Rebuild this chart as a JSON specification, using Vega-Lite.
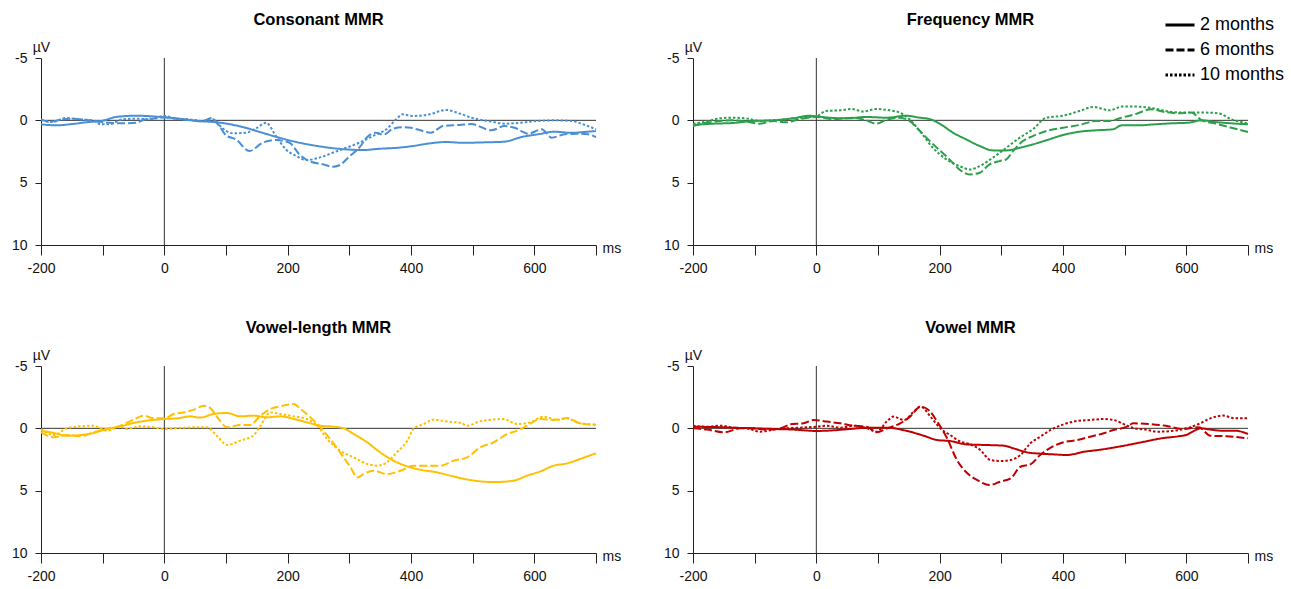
{
  "$schema": "https://vega.github.io/schema/vega-lite/v6.json",
  "background": "white",
  "padding": {"left": 11, "top": 9, "right": 5, "bottom": 5},
  "columns": 2,
  "spacing": {"row": 121, "column": 97},
  "bounds": "flush",
  "datasets": {
    "erp": [
      {"panel":"Consonant","age":"2 months","ms":-200,"uv":0.32},{"panel":"Consonant","age":"2 months","ms":-176,"uv":0.4},{"panel":"Consonant","age":"2 months","ms":-150,"uv":0.3},{"panel":"Consonant","age":"2 months","ms":-122,"uv":0.13},{"panel":"Consonant","age":"2 months","ms":-100,"uv":0.03},{"panel":"Consonant","age":"2 months","ms":-78,"uv":-0.27},{"panel":"Consonant","age":"2 months","ms":-46,"uv":-0.37},{"panel":"Consonant","age":"2 months","ms":-14,"uv":-0.3},{"panel":"Consonant","age":"2 months","ms":0,"uv":-0.24},{"panel":"Consonant","age":"2 months","ms":24,"uv":-0.13},{"panel":"Consonant","age":"2 months","ms":51,"uv":0.05},{"panel":"Consonant","age":"2 months","ms":78,"uv":0.13},{"panel":"Consonant","age":"2 months","ms":105,"uv":0.3},{"panel":"Consonant","age":"2 months","ms":132,"uv":0.6},{"panel":"Consonant","age":"2 months","ms":159,"uv":1.0},{"panel":"Consonant","age":"2 months","ms":187,"uv":1.4},{"panel":"Consonant","age":"2 months","ms":214,"uv":1.74},{"panel":"Consonant","age":"2 months","ms":241,"uv":2.0},{"panel":"Consonant","age":"2 months","ms":268,"uv":2.2},{"panel":"Consonant","age":"2 months","ms":295,"uv":2.33},{"panel":"Consonant","age":"2 months","ms":322,"uv":2.38},{"panel":"Consonant","age":"2 months","ms":349,"uv":2.28},{"panel":"Consonant","age":"2 months","ms":378,"uv":2.2},{"panel":"Consonant","age":"2 months","ms":403,"uv":2.06},{"panel":"Consonant","age":"2 months","ms":430,"uv":1.85},{"panel":"Consonant","age":"2 months","ms":457,"uv":1.74},{"panel":"Consonant","age":"2 months","ms":484,"uv":1.8},{"panel":"Consonant","age":"2 months","ms":524,"uv":1.76},{"panel":"Consonant","age":"2 months","ms":552,"uv":1.71},{"panel":"Consonant","age":"2 months","ms":579,"uv":1.34},{"panel":"Consonant","age":"2 months","ms":606,"uv":1.12},{"panel":"Consonant","age":"2 months","ms":633,"uv":0.91},{"panel":"Consonant","age":"2 months","ms":660,"uv":1.0},{"panel":"Consonant","age":"2 months","ms":687,"uv":0.91},{"panel":"Consonant","age":"2 months","ms":700,"uv":0.86},
      {"panel":"Consonant","age":"6 months","ms":-200,"uv":-0.08},{"panel":"Consonant","age":"6 months","ms":-186,"uv":0.13},{"panel":"Consonant","age":"6 months","ms":-170,"uv":-0.03},{"panel":"Consonant","age":"6 months","ms":-149,"uv":-0.13},{"panel":"Consonant","age":"6 months","ms":-127,"uv":-0.03},{"panel":"Consonant","age":"6 months","ms":-111,"uv":0.08},{"panel":"Consonant","age":"6 months","ms":-89,"uv":0.19},{"panel":"Consonant","age":"6 months","ms":-68,"uv":0.24},{"panel":"Consonant","age":"6 months","ms":-46,"uv":0.19},{"panel":"Consonant","age":"6 months","ms":-30,"uv":-0.08},{"panel":"Consonant","age":"6 months","ms":-14,"uv":-0.16},{"panel":"Consonant","age":"6 months","ms":0,"uv":-0.24},{"panel":"Consonant","age":"6 months","ms":19,"uv":-0.13},{"panel":"Consonant","age":"6 months","ms":41,"uv":-0.03},{"panel":"Consonant","age":"6 months","ms":62,"uv":0.08},{"panel":"Consonant","age":"6 months","ms":76,"uv":-0.19},{"panel":"Consonant","age":"6 months","ms":89,"uv":0.45},{"panel":"Consonant","age":"6 months","ms":100,"uv":1.2},{"panel":"Consonant","age":"6 months","ms":116,"uv":1.53},{"panel":"Consonant","age":"6 months","ms":138,"uv":2.46},{"panel":"Consonant","age":"6 months","ms":159,"uv":1.8},{"panel":"Consonant","age":"6 months","ms":181,"uv":1.58},{"panel":"Consonant","age":"6 months","ms":203,"uv":1.8},{"panel":"Consonant","age":"6 months","ms":219,"uv":2.73},{"panel":"Consonant","age":"6 months","ms":235,"uv":3.27},{"panel":"Consonant","age":"6 months","ms":257,"uv":3.53},{"panel":"Consonant","age":"6 months","ms":273,"uv":3.72},{"panel":"Consonant","age":"6 months","ms":284,"uv":3.6},{"panel":"Consonant","age":"6 months","ms":300,"uv":2.9},{"panel":"Consonant","age":"6 months","ms":316,"uv":2.2},{"panel":"Consonant","age":"6 months","ms":330,"uv":1.3},{"panel":"Consonant","age":"6 months","ms":343,"uv":1.0},{"panel":"Consonant","age":"6 months","ms":355,"uv":1.15},{"panel":"Consonant","age":"6 months","ms":370,"uv":0.7},{"panel":"Consonant","age":"6 months","ms":385,"uv":0.55},{"panel":"Consonant","age":"6 months","ms":400,"uv":0.6},{"panel":"Consonant","age":"6 months","ms":415,"uv":0.8},{"panel":"Consonant","age":"6 months","ms":432,"uv":1.0},{"panel":"Consonant","age":"6 months","ms":452,"uv":0.45},{"panel":"Consonant","age":"6 months","ms":479,"uv":0.37},{"panel":"Consonant","age":"6 months","ms":498,"uv":0.3},{"panel":"Consonant","age":"6 months","ms":530,"uv":0.8},{"panel":"Consonant","age":"6 months","ms":552,"uv":0.46},{"panel":"Consonant","age":"6 months","ms":568,"uv":0.59},{"panel":"Consonant","age":"6 months","ms":590,"uv":1.07},{"panel":"Consonant","age":"6 months","ms":612,"uv":0.72},{"panel":"Consonant","age":"6 months","ms":628,"uv":1.39},{"panel":"Consonant","age":"6 months","ms":649,"uv":1.12},{"panel":"Consonant","age":"6 months","ms":671,"uv":1.07},{"panel":"Consonant","age":"6 months","ms":687,"uv":1.12},{"panel":"Consonant","age":"6 months","ms":700,"uv":1.34},
      {"panel":"Consonant","age":"10 months","ms":-200,"uv":-0.03},{"panel":"Consonant","age":"10 months","ms":-181,"uv":0.13},{"panel":"Consonant","age":"10 months","ms":-160,"uv":-0.19},{"panel":"Consonant","age":"10 months","ms":-138,"uv":-0.08},{"panel":"Consonant","age":"10 months","ms":-116,"uv":0},{"panel":"Consonant","age":"10 months","ms":-103,"uv":0.32},{"panel":"Consonant","age":"10 months","ms":-89,"uv":0.32},{"panel":"Consonant","age":"10 months","ms":-68,"uv":-0.08},{"panel":"Consonant","age":"10 months","ms":-46,"uv":-0.13},{"panel":"Consonant","age":"10 months","ms":-24,"uv":-0.08},{"panel":"Consonant","age":"10 months","ms":0,"uv":-0.35},{"panel":"Consonant","age":"10 months","ms":19,"uv":-0.13},{"panel":"Consonant","age":"10 months","ms":41,"uv":-0.08},{"panel":"Consonant","age":"10 months","ms":62,"uv":0.05},{"panel":"Consonant","age":"10 months","ms":78,"uv":-0.08},{"panel":"Consonant","age":"10 months","ms":95,"uv":0.67},{"panel":"Consonant","age":"10 months","ms":111,"uv":1.04},{"panel":"Consonant","age":"10 months","ms":132,"uv":1.0},{"panel":"Consonant","age":"10 months","ms":150,"uv":0.6},{"panel":"Consonant","age":"10 months","ms":165,"uv":0.2},{"panel":"Consonant","age":"10 months","ms":181,"uv":1.26},{"panel":"Consonant","age":"10 months","ms":197,"uv":2.33},{"panel":"Consonant","age":"10 months","ms":214,"uv":2.86},{"panel":"Consonant","age":"10 months","ms":230,"uv":3.19},{"panel":"Consonant","age":"10 months","ms":251,"uv":3.0},{"panel":"Consonant","age":"10 months","ms":273,"uv":2.6},{"panel":"Consonant","age":"10 months","ms":295,"uv":2.2},{"panel":"Consonant","age":"10 months","ms":316,"uv":1.8},{"panel":"Consonant","age":"10 months","ms":338,"uv":1.26},{"panel":"Consonant","age":"10 months","ms":360,"uv":0.72},{"panel":"Consonant","age":"10 months","ms":376,"uv":-0.08},{"panel":"Consonant","age":"10 months","ms":386,"uv":-0.48},{"panel":"Consonant","age":"10 months","ms":403,"uv":-0.35},{"panel":"Consonant","age":"10 months","ms":430,"uv":-0.48},{"panel":"Consonant","age":"10 months","ms":457,"uv":-0.83},{"panel":"Consonant","age":"10 months","ms":478,"uv":-0.56},{"panel":"Consonant","age":"10 months","ms":498,"uv":-0.21},{"panel":"Consonant","age":"10 months","ms":530,"uv":0.1},{"panel":"Consonant","age":"10 months","ms":552,"uv":0.27},{"panel":"Consonant","age":"10 months","ms":579,"uv":0.19},{"panel":"Consonant","age":"10 months","ms":606,"uv":0.05},{"panel":"Consonant","age":"10 months","ms":633,"uv":0},{"panel":"Consonant","age":"10 months","ms":660,"uv":0.05},{"panel":"Consonant","age":"10 months","ms":682,"uv":0.37},{"panel":"Consonant","age":"10 months","ms":700,"uv":0.72},

      {"panel":"Frequency","age":"2 months","ms":-200,"uv":0.37},{"panel":"Frequency","age":"2 months","ms":-168,"uv":0.27},{"panel":"Frequency","age":"2 months","ms":-135,"uv":0.21},{"panel":"Frequency","age":"2 months","ms":-103,"uv":0.05},{"panel":"Frequency","age":"2 months","ms":-70,"uv":0},{"panel":"Frequency","age":"2 months","ms":-38,"uv":-0.16},{"panel":"Frequency","age":"2 months","ms":-11,"uv":-0.37},{"panel":"Frequency","age":"2 months","ms":0,"uv":-0.32},{"panel":"Frequency","age":"2 months","ms":22,"uv":-0.21},{"panel":"Frequency","age":"2 months","ms":49,"uv":-0.16},{"panel":"Frequency","age":"2 months","ms":81,"uv":-0.27},{"panel":"Frequency","age":"2 months","ms":114,"uv":-0.21},{"panel":"Frequency","age":"2 months","ms":146,"uv":-0.37},{"panel":"Frequency","age":"2 months","ms":168,"uv":-0.21},{"panel":"Frequency","age":"2 months","ms":184,"uv":-0.1},{"panel":"Frequency","age":"2 months","ms":200,"uv":0.27},{"panel":"Frequency","age":"2 months","ms":222,"uv":1.0},{"panel":"Frequency","age":"2 months","ms":243,"uv":1.53},{"panel":"Frequency","age":"2 months","ms":265,"uv":2.06},{"panel":"Frequency","age":"2 months","ms":286,"uv":2.41},{"panel":"Frequency","age":"2 months","ms":308,"uv":2.41},{"panel":"Frequency","age":"2 months","ms":330,"uv":2.2},{"panel":"Frequency","age":"2 months","ms":351,"uv":1.93},{"panel":"Frequency","age":"2 months","ms":373,"uv":1.6},{"panel":"Frequency","age":"2 months","ms":400,"uv":1.18},{"panel":"Frequency","age":"2 months","ms":427,"uv":0.91},{"panel":"Frequency","age":"2 months","ms":454,"uv":0.8},{"panel":"Frequency","age":"2 months","ms":481,"uv":0.72},{"panel":"Frequency","age":"2 months","ms":495,"uv":0.4},{"panel":"Frequency","age":"2 months","ms":522,"uv":0.4},{"panel":"Frequency","age":"2 months","ms":549,"uv":0.32},{"panel":"Frequency","age":"2 months","ms":576,"uv":0.24},{"panel":"Frequency","age":"2 months","ms":603,"uv":0.19},{"panel":"Frequency","age":"2 months","ms":625,"uv":0},{"panel":"Frequency","age":"2 months","ms":646,"uv":0.13},{"panel":"Frequency","age":"2 months","ms":673,"uv":0.24},{"panel":"Frequency","age":"2 months","ms":700,"uv":0.32},
      {"panel":"Frequency","age":"6 months","ms":-200,"uv":0.45},{"panel":"Frequency","age":"6 months","ms":-178,"uv":0.19},{"panel":"Frequency","age":"6 months","ms":-157,"uv":0.05},{"panel":"Frequency","age":"6 months","ms":-135,"uv":0},{"panel":"Frequency","age":"6 months","ms":-114,"uv":0.1},{"panel":"Frequency","age":"6 months","ms":-92,"uv":0.27},{"panel":"Frequency","age":"6 months","ms":-70,"uv":0.05},{"panel":"Frequency","age":"6 months","ms":-49,"uv":0.16},{"panel":"Frequency","age":"6 months","ms":-27,"uv":-0.1},{"panel":"Frequency","age":"6 months","ms":0,"uv":-0.27},{"panel":"Frequency","age":"6 months","ms":27,"uv":-0.1},{"panel":"Frequency","age":"6 months","ms":59,"uv":-0.21},{"panel":"Frequency","age":"6 months","ms":81,"uv":0},{"panel":"Frequency","age":"6 months","ms":97,"uv":0.27},{"panel":"Frequency","age":"6 months","ms":114,"uv":-0.05},{"panel":"Frequency","age":"6 months","ms":135,"uv":-0.21},{"panel":"Frequency","age":"6 months","ms":151,"uv":0.05},{"panel":"Frequency","age":"6 months","ms":168,"uv":0.86},{"panel":"Frequency","age":"6 months","ms":184,"uv":1.66},{"panel":"Frequency","age":"6 months","ms":200,"uv":2.41},{"panel":"Frequency","age":"6 months","ms":216,"uv":3.13},{"panel":"Frequency","age":"6 months","ms":232,"uv":3.94},{"panel":"Frequency","age":"6 months","ms":249,"uv":4.34},{"panel":"Frequency","age":"6 months","ms":265,"uv":4.2},{"panel":"Frequency","age":"6 months","ms":281,"uv":3.53},{"panel":"Frequency","age":"6 months","ms":297,"uv":3.27},{"panel":"Frequency","age":"6 months","ms":308,"uv":3.13},{"panel":"Frequency","age":"6 months","ms":319,"uv":2.46},{"panel":"Frequency","age":"6 months","ms":335,"uv":1.66},{"panel":"Frequency","age":"6 months","ms":351,"uv":1.26},{"panel":"Frequency","age":"6 months","ms":373,"uv":0.86},{"panel":"Frequency","age":"6 months","ms":400,"uv":0.59},{"panel":"Frequency","age":"6 months","ms":427,"uv":0.37},{"panel":"Frequency","age":"6 months","ms":454,"uv":0.05},{"panel":"Frequency","age":"6 months","ms":476,"uv":0.05},{"panel":"Frequency","age":"6 months","ms":495,"uv":-0.21},{"panel":"Frequency","age":"6 months","ms":516,"uv":-0.48},{"panel":"Frequency","age":"6 months","ms":543,"uv":-0.88},{"panel":"Frequency","age":"6 months","ms":565,"uv":-0.67},{"panel":"Frequency","age":"6 months","ms":587,"uv":-0.56},{"panel":"Frequency","age":"6 months","ms":608,"uv":-0.62},{"panel":"Frequency","age":"6 months","ms":625,"uv":0},{"panel":"Frequency","age":"6 months","ms":646,"uv":0.24},{"panel":"Frequency","age":"6 months","ms":673,"uv":0.59},{"panel":"Frequency","age":"6 months","ms":700,"uv":0.94},
      {"panel":"Frequency","age":"10 months","ms":-200,"uv":0.27},{"panel":"Frequency","age":"10 months","ms":-178,"uv":0.1},{"panel":"Frequency","age":"10 months","ms":-157,"uv":-0.16},{"panel":"Frequency","age":"10 months","ms":-135,"uv":-0.21},{"panel":"Frequency","age":"10 months","ms":-114,"uv":-0.16},{"panel":"Frequency","age":"10 months","ms":-92,"uv":0.05},{"panel":"Frequency","age":"10 months","ms":-59,"uv":-0.05},{"panel":"Frequency","age":"10 months","ms":-27,"uv":-0.21},{"panel":"Frequency","age":"10 months","ms":0,"uv":-0.32},{"panel":"Frequency","age":"10 months","ms":16,"uv":-0.75},{"panel":"Frequency","age":"10 months","ms":38,"uv":-0.8},{"panel":"Frequency","age":"10 months","ms":57,"uv":-0.91},{"panel":"Frequency","age":"10 months","ms":76,"uv":-0.7},{"panel":"Frequency","age":"10 months","ms":97,"uv":-0.91},{"panel":"Frequency","age":"10 months","ms":119,"uv":-0.8},{"panel":"Frequency","age":"10 months","ms":135,"uv":-0.62},{"panel":"Frequency","age":"10 months","ms":151,"uv":-0.08},{"panel":"Frequency","age":"10 months","ms":168,"uv":0.86},{"panel":"Frequency","age":"10 months","ms":189,"uv":2.2},{"panel":"Frequency","age":"10 months","ms":211,"uv":3.13},{"panel":"Frequency","age":"10 months","ms":232,"uv":3.67},{"panel":"Frequency","age":"10 months","ms":249,"uv":3.94},{"panel":"Frequency","age":"10 months","ms":265,"uv":3.67},{"panel":"Frequency","age":"10 months","ms":286,"uv":3.0},{"panel":"Frequency","age":"10 months","ms":308,"uv":2.2},{"panel":"Frequency","age":"10 months","ms":330,"uv":1.39},{"panel":"Frequency","age":"10 months","ms":351,"uv":0.72},{"panel":"Frequency","age":"10 months","ms":373,"uv":-0.21},{"panel":"Frequency","age":"10 months","ms":400,"uv":-0.37},{"panel":"Frequency","age":"10 months","ms":427,"uv":-0.75},{"panel":"Frequency","age":"10 months","ms":449,"uv":-1.07},{"panel":"Frequency","age":"10 months","ms":476,"uv":-0.8},{"panel":"Frequency","age":"10 months","ms":495,"uv":-1.1},{"panel":"Frequency","age":"10 months","ms":522,"uv":-1.1},{"panel":"Frequency","age":"10 months","ms":549,"uv":-0.94},{"panel":"Frequency","age":"10 months","ms":576,"uv":-0.67},{"panel":"Frequency","age":"10 months","ms":603,"uv":-0.62},{"panel":"Frequency","age":"10 months","ms":630,"uv":-0.62},{"panel":"Frequency","age":"10 months","ms":652,"uv":-0.56},{"panel":"Frequency","age":"10 months","ms":673,"uv":-0.08},{"panel":"Frequency","age":"10 months","ms":700,"uv":0.24},

      {"panel":"Vowel-length","age":"2 months","ms":-200,"uv":0.19},{"panel":"Vowel-length","age":"2 months","ms":-179,"uv":0.37},{"panel":"Vowel-length","age":"2 months","ms":-158,"uv":0.59},{"panel":"Vowel-length","age":"2 months","ms":-136,"uv":0.54},{"panel":"Vowel-length","age":"2 months","ms":-115,"uv":0.37},{"panel":"Vowel-length","age":"2 months","ms":-93,"uv":0.05},{"panel":"Vowel-length","age":"2 months","ms":-71,"uv":-0.16},{"panel":"Vowel-length","age":"2 months","ms":-50,"uv":-0.43},{"panel":"Vowel-length","age":"2 months","ms":-28,"uv":-0.62},{"panel":"Vowel-length","age":"2 months","ms":0,"uv":-0.75},{"panel":"Vowel-length","age":"2 months","ms":21,"uv":-0.8},{"panel":"Vowel-length","age":"2 months","ms":42,"uv":-0.96},{"panel":"Vowel-length","age":"2 months","ms":58,"uv":-0.86},{"panel":"Vowel-length","age":"2 months","ms":80,"uv":-1.15},{"panel":"Vowel-length","age":"2 months","ms":102,"uv":-1.23},{"panel":"Vowel-length","age":"2 months","ms":123,"uv":-0.96},{"panel":"Vowel-length","age":"2 months","ms":145,"uv":-1.02},{"panel":"Vowel-length","age":"2 months","ms":166,"uv":-0.88},{"panel":"Vowel-length","age":"2 months","ms":188,"uv":-0.96},{"panel":"Vowel-length","age":"2 months","ms":210,"uv":-0.75},{"panel":"Vowel-length","age":"2 months","ms":231,"uv":-0.48},{"panel":"Vowel-length","age":"2 months","ms":253,"uv":-0.21},{"panel":"Vowel-length","age":"2 months","ms":275,"uv":-0.13},{"panel":"Vowel-length","age":"2 months","ms":291,"uv":0},{"panel":"Vowel-length","age":"2 months","ms":307,"uv":0.46},{"panel":"Vowel-length","age":"2 months","ms":329,"uv":1.12},{"panel":"Vowel-length","age":"2 months","ms":350,"uv":1.93},{"panel":"Vowel-length","age":"2 months","ms":372,"uv":2.6},{"panel":"Vowel-length","age":"2 months","ms":394,"uv":3.05},{"panel":"Vowel-length","age":"2 months","ms":415,"uv":3.32},{"panel":"Vowel-length","age":"2 months","ms":442,"uv":3.53},{"panel":"Vowel-length","age":"2 months","ms":469,"uv":3.86},{"panel":"Vowel-length","age":"2 months","ms":491,"uv":4.1},{"panel":"Vowel-length","age":"2 months","ms":534,"uv":4.31},{"panel":"Vowel-length","age":"2 months","ms":566,"uv":4.2},{"panel":"Vowel-length","age":"2 months","ms":588,"uv":3.8},{"panel":"Vowel-length","age":"2 months","ms":610,"uv":3.45},{"panel":"Vowel-length","age":"2 months","ms":631,"uv":3.0},{"panel":"Vowel-length","age":"2 months","ms":653,"uv":2.81},{"panel":"Vowel-length","age":"2 months","ms":674,"uv":2.46},{"panel":"Vowel-length","age":"2 months","ms":700,"uv":2.0},
      {"panel":"Vowel-length","age":"6 months","ms":-200,"uv":0.32},{"panel":"Vowel-length","age":"6 months","ms":-179,"uv":0.72},{"panel":"Vowel-length","age":"6 months","ms":-158,"uv":0.54},{"panel":"Vowel-length","age":"6 months","ms":-136,"uv":0.64},{"panel":"Vowel-length","age":"6 months","ms":-115,"uv":0.32},{"panel":"Vowel-length","age":"6 months","ms":-93,"uv":0.05},{"panel":"Vowel-length","age":"6 months","ms":-71,"uv":-0.21},{"panel":"Vowel-length","age":"6 months","ms":-50,"uv":-0.7},{"panel":"Vowel-length","age":"6 months","ms":-34,"uv":-1.02},{"panel":"Vowel-length","age":"6 months","ms":-17,"uv":-0.8},{"panel":"Vowel-length","age":"6 months","ms":0,"uv":-0.8},{"panel":"Vowel-length","age":"6 months","ms":15,"uv":-1.15},{"panel":"Vowel-length","age":"6 months","ms":31,"uv":-1.28},{"panel":"Vowel-length","age":"6 months","ms":48,"uv":-1.5},{"panel":"Vowel-length","age":"6 months","ms":64,"uv":-1.82},{"panel":"Vowel-length","age":"6 months","ms":75,"uv":-1.6},{"panel":"Vowel-length","age":"6 months","ms":88,"uv":-0.75},{"panel":"Vowel-length","age":"6 months","ms":102,"uv":-0.08},{"panel":"Vowel-length","age":"6 months","ms":123,"uv":-0.27},{"panel":"Vowel-length","age":"6 months","ms":139,"uv":-0.27},{"panel":"Vowel-length","age":"6 months","ms":156,"uv":-1.02},{"panel":"Vowel-length","age":"6 months","ms":172,"uv":-1.55},{"panel":"Vowel-length","age":"6 months","ms":188,"uv":-1.77},{"panel":"Vowel-length","age":"6 months","ms":210,"uv":-1.95},{"panel":"Vowel-length","age":"6 months","ms":221,"uv":-1.55},{"panel":"Vowel-length","age":"6 months","ms":237,"uv":-0.88},{"panel":"Vowel-length","age":"6 months","ms":253,"uv":-0.08},{"panel":"Vowel-length","age":"6 months","ms":269,"uv":0.86},{"panel":"Vowel-length","age":"6 months","ms":285,"uv":1.93},{"panel":"Vowel-length","age":"6 months","ms":302,"uv":3.13},{"panel":"Vowel-length","age":"6 months","ms":313,"uv":3.94},{"panel":"Vowel-length","age":"6 months","ms":323,"uv":3.67},{"panel":"Vowel-length","age":"6 months","ms":339,"uv":3.4},{"panel":"Vowel-length","age":"6 months","ms":361,"uv":3.67},{"panel":"Vowel-length","age":"6 months","ms":383,"uv":3.4},{"panel":"Vowel-length","age":"6 months","ms":404,"uv":3.0},{"panel":"Vowel-length","age":"6 months","ms":426,"uv":3.0},{"panel":"Vowel-length","age":"6 months","ms":448,"uv":3.0},{"panel":"Vowel-length","age":"6 months","ms":469,"uv":2.6},{"panel":"Vowel-length","age":"6 months","ms":491,"uv":2.33},{"panel":"Vowel-length","age":"6 months","ms":512,"uv":1.53},{"panel":"Vowel-length","age":"6 months","ms":534,"uv":1.12},{"panel":"Vowel-length","age":"6 months","ms":556,"uv":0.46},{"panel":"Vowel-length","age":"6 months","ms":572,"uv":0.19},{"panel":"Vowel-length","age":"6 months","ms":588,"uv":-0.21},{"panel":"Vowel-length","age":"6 months","ms":610,"uv":-0.75},{"panel":"Vowel-length","age":"6 months","ms":631,"uv":-0.67},{"panel":"Vowel-length","age":"6 months","ms":653,"uv":-0.83},{"panel":"Vowel-length","age":"6 months","ms":674,"uv":-0.4},{"panel":"Vowel-length","age":"6 months","ms":700,"uv":-0.29},
      {"panel":"Vowel-length","age":"10 months","ms":-200,"uv":0.05},{"panel":"Vowel-length","age":"10 months","ms":-179,"uv":0.54},{"panel":"Vowel-length","age":"10 months","ms":-158,"uv":0},{"panel":"Vowel-length","age":"10 months","ms":-136,"uv":-0.16},{"panel":"Vowel-length","age":"10 months","ms":-115,"uv":-0.21},{"panel":"Vowel-length","age":"10 months","ms":-93,"uv":0.19},{"panel":"Vowel-length","age":"10 months","ms":-71,"uv":-0.16},{"panel":"Vowel-length","age":"10 months","ms":-61,"uv":0.05},{"panel":"Vowel-length","age":"10 months","ms":-39,"uv":-0.16},{"panel":"Vowel-length","age":"10 months","ms":-17,"uv":-0.08},{"panel":"Vowel-length","age":"10 months","ms":0,"uv":0.05},{"panel":"Vowel-length","age":"10 months","ms":21,"uv":-0.03},{"panel":"Vowel-length","age":"10 months","ms":48,"uv":-0.08},{"panel":"Vowel-length","age":"10 months","ms":69,"uv":-0.08},{"panel":"Vowel-length","age":"10 months","ms":85,"uv":0.59},{"panel":"Vowel-length","age":"10 months","ms":102,"uv":1.34},{"panel":"Vowel-length","age":"10 months","ms":123,"uv":0.99},{"panel":"Vowel-length","age":"10 months","ms":145,"uv":0.54},{"panel":"Vowel-length","age":"10 months","ms":156,"uv":-0.21},{"panel":"Vowel-length","age":"10 months","ms":172,"uv":-1.28},{"panel":"Vowel-length","age":"10 months","ms":188,"uv":-1.15},{"panel":"Vowel-length","age":"10 months","ms":210,"uv":-0.96},{"panel":"Vowel-length","age":"10 months","ms":231,"uv":-0.75},{"panel":"Vowel-length","age":"10 months","ms":248,"uv":-0.21},{"panel":"Vowel-length","age":"10 months","ms":264,"uv":0.86},{"panel":"Vowel-length","age":"10 months","ms":285,"uv":1.79},{"panel":"Vowel-length","age":"10 months","ms":307,"uv":2.33},{"panel":"Vowel-length","age":"10 months","ms":329,"uv":2.86},{"panel":"Vowel-length","age":"10 months","ms":345,"uv":3.0},{"panel":"Vowel-length","age":"10 months","ms":361,"uv":2.73},{"panel":"Vowel-length","age":"10 months","ms":377,"uv":1.93},{"panel":"Vowel-length","age":"10 months","ms":394,"uv":0.99},{"panel":"Vowel-length","age":"10 months","ms":404,"uv":0.05},{"panel":"Vowel-length","age":"10 months","ms":421,"uv":-0.35},{"panel":"Vowel-length","age":"10 months","ms":437,"uv":-0.7},{"panel":"Vowel-length","age":"10 months","ms":459,"uv":-0.54},{"panel":"Vowel-length","age":"10 months","ms":481,"uv":-0.43},{"panel":"Vowel-length","age":"10 months","ms":491,"uv":-0.21},{"panel":"Vowel-length","age":"10 months","ms":512,"uv":-0.56},{"panel":"Vowel-length","age":"10 months","ms":550,"uv":-0.75},{"panel":"Vowel-length","age":"10 months","ms":572,"uv":-0.35},{"panel":"Vowel-length","age":"10 months","ms":593,"uv":-0.48},{"panel":"Vowel-length","age":"10 months","ms":615,"uv":-0.94},{"panel":"Vowel-length","age":"10 months","ms":637,"uv":-0.67},{"panel":"Vowel-length","age":"10 months","ms":653,"uv":-0.8},{"panel":"Vowel-length","age":"10 months","ms":674,"uv":-0.4},{"panel":"Vowel-length","age":"10 months","ms":700,"uv":-0.3},

      {"panel":"Vowel","age":"2 months","ms":-200,"uv":-0.13},{"panel":"Vowel","age":"2 months","ms":-166,"uv":-0.1},{"panel":"Vowel","age":"2 months","ms":-134,"uv":-0.05},{"panel":"Vowel","age":"2 months","ms":-102,"uv":0},{"panel":"Vowel","age":"2 months","ms":-69,"uv":0.05},{"panel":"Vowel","age":"2 months","ms":-37,"uv":0.1},{"panel":"Vowel","age":"2 months","ms":0,"uv":0.21},{"panel":"Vowel","age":"2 months","ms":28,"uv":0.16},{"panel":"Vowel","age":"2 months","ms":55,"uv":0.05},{"panel":"Vowel","age":"2 months","ms":82,"uv":-0.05},{"panel":"Vowel","age":"2 months","ms":115,"uv":-0.05},{"panel":"Vowel","age":"2 months","ms":147,"uv":0.21},{"panel":"Vowel","age":"2 months","ms":174,"uv":0.59},{"panel":"Vowel","age":"2 months","ms":196,"uv":0.94},{"panel":"Vowel","age":"2 months","ms":217,"uv":1.02},{"panel":"Vowel","age":"2 months","ms":244,"uv":1.29},{"panel":"Vowel","age":"2 months","ms":277,"uv":1.34},{"panel":"Vowel","age":"2 months","ms":304,"uv":1.39},{"panel":"Vowel","age":"2 months","ms":320,"uv":1.61},{"panel":"Vowel","age":"2 months","ms":342,"uv":1.93},{"panel":"Vowel","age":"2 months","ms":363,"uv":2.03},{"panel":"Vowel","age":"2 months","ms":385,"uv":2.09},{"panel":"Vowel","age":"2 months","ms":406,"uv":2.14},{"panel":"Vowel","age":"2 months","ms":435,"uv":1.87},{"panel":"Vowel","age":"2 months","ms":461,"uv":1.71},{"panel":"Vowel","age":"2 months","ms":494,"uv":1.44},{"panel":"Vowel","age":"2 months","ms":527,"uv":1.12},{"panel":"Vowel","age":"2 months","ms":560,"uv":0.8},{"panel":"Vowel","age":"2 months","ms":587,"uv":0.64},{"panel":"Vowel","age":"2 months","ms":600,"uv":0.53},{"panel":"Vowel","age":"2 months","ms":613,"uv":0.19},{"panel":"Vowel","age":"2 months","ms":623,"uv":0},{"panel":"Vowel","age":"2 months","ms":639,"uv":0.1},{"panel":"Vowel","age":"2 months","ms":659,"uv":0.19},{"panel":"Vowel","age":"2 months","ms":679,"uv":0.19},{"panel":"Vowel","age":"2 months","ms":700,"uv":0.45},
      {"panel":"Vowel","age":"6 months","ms":-200,"uv":0},{"panel":"Vowel","age":"6 months","ms":-177,"uv":0.1},{"panel":"Vowel","age":"6 months","ms":-150,"uv":0.32},{"panel":"Vowel","age":"6 months","ms":-123,"uv":0},{"panel":"Vowel","age":"6 months","ms":-102,"uv":0},{"panel":"Vowel","age":"6 months","ms":-80,"uv":0.1},{"panel":"Vowel","age":"6 months","ms":-58,"uv":0},{"panel":"Vowel","age":"6 months","ms":-42,"uv":-0.32},{"panel":"Vowel","age":"6 months","ms":-21,"uv":-0.4},{"panel":"Vowel","age":"6 months","ms":-4,"uv":-0.67},{"panel":"Vowel","age":"6 months","ms":17,"uv":-0.54},{"panel":"Vowel","age":"6 months","ms":39,"uv":-0.4},{"panel":"Vowel","age":"6 months","ms":61,"uv":-0.21},{"panel":"Vowel","age":"6 months","ms":82,"uv":-0.13},{"panel":"Vowel","age":"6 months","ms":98,"uv":0.32},{"panel":"Vowel","age":"6 months","ms":115,"uv":0},{"panel":"Vowel","age":"6 months","ms":136,"uv":-0.4},{"panel":"Vowel","age":"6 months","ms":152,"uv":-0.94},{"panel":"Vowel","age":"6 months","ms":169,"uv":-1.74},{"panel":"Vowel","age":"6 months","ms":182,"uv":-1.47},{"panel":"Vowel","age":"6 months","ms":196,"uv":-0.54},{"panel":"Vowel","age":"6 months","ms":212,"uv":0.8},{"panel":"Vowel","age":"6 months","ms":228,"uv":2.54},{"panel":"Vowel","age":"6 months","ms":245,"uv":3.61},{"panel":"Vowel","age":"6 months","ms":261,"uv":4.15},{"panel":"Vowel","age":"6 months","ms":281,"uv":4.55},{"panel":"Vowel","age":"6 months","ms":298,"uv":4.28},{"panel":"Vowel","age":"6 months","ms":315,"uv":4.02},{"panel":"Vowel","age":"6 months","ms":331,"uv":3.08},{"panel":"Vowel","age":"6 months","ms":347,"uv":2.89},{"panel":"Vowel","age":"6 months","ms":363,"uv":2.14},{"panel":"Vowel","age":"6 months","ms":380,"uv":1.55},{"panel":"Vowel","age":"6 months","ms":401,"uv":1.12},{"panel":"Vowel","age":"6 months","ms":423,"uv":0.94},{"panel":"Vowel","age":"6 months","ms":444,"uv":0.67},{"panel":"Vowel","age":"6 months","ms":466,"uv":0.4},{"panel":"Vowel","age":"6 months","ms":482,"uv":0.13},{"panel":"Vowel","age":"6 months","ms":504,"uv":-0.13},{"panel":"Vowel","age":"6 months","ms":514,"uv":-0.4},{"panel":"Vowel","age":"6 months","ms":540,"uv":-0.35},{"panel":"Vowel","age":"6 months","ms":567,"uv":-0.2},{"panel":"Vowel","age":"6 months","ms":593,"uv":0.05},{"panel":"Vowel","age":"6 months","ms":620,"uv":-0.08},{"panel":"Vowel","age":"6 months","ms":639,"uv":0.59},{"panel":"Vowel","age":"6 months","ms":666,"uv":0.64},{"panel":"Vowel","age":"6 months","ms":700,"uv":0.8},
      {"panel":"Vowel","age":"10 months","ms":-200,"uv":-0.21},{"panel":"Vowel","age":"10 months","ms":-177,"uv":-0.13},{"panel":"Vowel","age":"10 months","ms":-156,"uv":-0.21},{"panel":"Vowel","age":"10 months","ms":-134,"uv":-0.05},{"panel":"Vowel","age":"10 months","ms":-112,"uv":0},{"panel":"Vowel","age":"10 months","ms":-91,"uv":0.27},{"panel":"Vowel","age":"10 months","ms":-69,"uv":0.1},{"panel":"Vowel","age":"10 months","ms":-48,"uv":0},{"panel":"Vowel","age":"10 months","ms":-26,"uv":-0.05},{"panel":"Vowel","age":"10 months","ms":0,"uv":-0.13},{"panel":"Vowel","age":"10 months","ms":17,"uv":-0.21},{"panel":"Vowel","age":"10 months","ms":39,"uv":-0.05},{"panel":"Vowel","age":"10 months","ms":61,"uv":-0.21},{"panel":"Vowel","age":"10 months","ms":82,"uv":0},{"panel":"Vowel","age":"10 months","ms":98,"uv":0.27},{"panel":"Vowel","age":"10 months","ms":115,"uv":-0.59},{"panel":"Vowel","age":"10 months","ms":125,"uv":-0.94},{"panel":"Vowel","age":"10 months","ms":142,"uv":-0.67},{"panel":"Vowel","age":"10 months","ms":158,"uv":-1.34},{"panel":"Vowel","age":"10 months","ms":169,"uv":-1.74},{"panel":"Vowel","age":"10 months","ms":185,"uv":-0.94},{"panel":"Vowel","age":"10 months","ms":201,"uv":0},{"panel":"Vowel","age":"10 months","ms":217,"uv":0.54},{"panel":"Vowel","age":"10 months","ms":234,"uv":1.07},{"panel":"Vowel","age":"10 months","ms":250,"uv":1.29},{"panel":"Vowel","age":"10 months","ms":266,"uv":1.74},{"panel":"Vowel","age":"10 months","ms":282,"uv":2.54},{"panel":"Vowel","age":"10 months","ms":299,"uv":2.62},{"panel":"Vowel","age":"10 months","ms":315,"uv":2.54},{"panel":"Vowel","age":"10 months","ms":331,"uv":2.14},{"panel":"Vowel","age":"10 months","ms":347,"uv":1.2},{"panel":"Vowel","age":"10 months","ms":363,"uv":0.67},{"panel":"Vowel","age":"10 months","ms":380,"uv":0.13},{"panel":"Vowel","age":"10 months","ms":401,"uv":-0.32},{"panel":"Vowel","age":"10 months","ms":423,"uv":-0.59},{"panel":"Vowel","age":"10 months","ms":444,"uv":-0.67},{"panel":"Vowel","age":"10 months","ms":466,"uv":-0.75},{"panel":"Vowel","age":"10 months","ms":482,"uv":-0.67},{"panel":"Vowel","age":"10 months","ms":504,"uv":-0.21},{"panel":"Vowel","age":"10 months","ms":516,"uv":0},{"panel":"Vowel","age":"10 months","ms":534,"uv":0.1},{"panel":"Vowel","age":"10 months","ms":553,"uv":0.27},{"panel":"Vowel","age":"10 months","ms":580,"uv":0.19},{"panel":"Vowel","age":"10 months","ms":600,"uv":0},{"panel":"Vowel","age":"10 months","ms":620,"uv":-0.35},{"panel":"Vowel","age":"10 months","ms":639,"uv":-0.8},{"panel":"Vowel","age":"10 months","ms":659,"uv":-1.02},{"panel":"Vowel","age":"10 months","ms":679,"uv":-0.8},{"panel":"Vowel","age":"10 months","ms":700,"uv":-0.8}
    ]
  },
  "concat": [
    {
      "width": 555, "height": 187,
      "title": {"text": "Consonant MMR"},
      "layer": [
        {"data": {"values": [{}]}, "mark": {"type": "rule", "color": "#333333", "strokeWidth": 1}, "encoding": {"y": {"datum": 0, "type": "quantitative"}}},
        {"data": {"values": [{}]}, "mark": {"type": "rule", "color": "#333333", "strokeWidth": 1}, "encoding": {"x": {"datum": 0, "type": "quantitative"}}},
        {
          "data": {"name": "erp"},
          "transform": [{"filter": "datum.panel === 'Consonant'"}],
          "mark": {"type": "line", "strokeWidth": 2, "color": "#4A8FD4", "interpolate": "monotone"},
          "encoding": {
            "x": {"field": "ms", "type": "quantitative", "scale": {"domain": [-200, 700], "nice": false, "zero": false},
              "axis": {"values": [-200,-100,0,100,200,300,400,500,600,700], "labelExpr": "datum.value % 200 === 0 && datum.value < 700 ? '' + datum.value : ''", "tickSize": 10, "labelPadding": 6, "title": "ms", "titleX": 561, "titleY": 3, "titleAlign": "left", "titleBaseline": "middle", "labelFlush": false, "labelOverlap": false}},
            "y": {"field": "uv", "type": "quantitative", "scale": {"domain": [-5, 10], "reverse": true, "nice": false, "zero": false},
              "axis": {"values": [-5, 0, 5, 10], "labelExpr": "'' + datum.value", "tickSize": 6, "labelPadding": 8, "title": "µV", "titleAngle": 0, "titleX": 0, "titleY": -11, "titleAlign": "center", "titleBaseline": "middle", "labelFlush": false}},
            "strokeDash": {"field": "age", "type": "nominal", "scale": {"domain": ["2 months", "6 months", "10 months"], "range": [[1, 0], [8, 3], [2.5, 2]]},
              "legend": {"title": null, "orient": "none", "legendX": 1123, "legendY": -49, "padding": 0, "symbolType": "stroke", "symbolStrokeColor": "#000000", "symbolStrokeWidth": 3, "symbolSize": 841, "labelFontSize": 18, "labelFont": "Liberation Sans", "labelColor": "#000000", "labelOffset": 4, "rowPadding": -6}}
          }
        }
      ]
    },
    {
      "width": 555, "height": 187,
      "title": {"text": "Frequency MMR"},
      "layer": [
        {"data": {"values": [{}]}, "mark": {"type": "rule", "color": "#333333", "strokeWidth": 1}, "encoding": {"y": {"datum": 0, "type": "quantitative"}}},
        {"data": {"values": [{}]}, "mark": {"type": "rule", "color": "#333333", "strokeWidth": 1}, "encoding": {"x": {"datum": 0, "type": "quantitative"}}},
        {
          "data": {"name": "erp"},
          "transform": [{"filter": "datum.panel === 'Frequency'"}],
          "mark": {"type": "line", "strokeWidth": 2, "color": "#2BA04A", "interpolate": "monotone"},
          "encoding": {
            "x": {"field": "ms", "type": "quantitative", "scale": {"domain": [-200, 700], "nice": false, "zero": false},
              "axis": {"values": [-200,-100,0,100,200,300,400,500,600,700], "labelExpr": "datum.value % 200 === 0 && datum.value < 700 ? '' + datum.value : ''", "tickSize": 10, "labelPadding": 6, "title": "ms", "titleX": 561, "titleY": 3, "titleAlign": "left", "titleBaseline": "middle", "labelFlush": false, "labelOverlap": false}},
            "y": {"field": "uv", "type": "quantitative", "scale": {"domain": [-5, 10], "reverse": true, "nice": false, "zero": false},
              "axis": {"values": [-5, 0, 5, 10], "labelExpr": "'' + datum.value", "tickSize": 6, "labelPadding": 8, "title": "µV", "titleAngle": 0, "titleX": 0, "titleY": -11, "titleAlign": "center", "titleBaseline": "middle", "labelFlush": false}},
            "strokeDash": {"field": "age", "type": "nominal", "scale": {"domain": ["2 months", "6 months", "10 months"], "range": [[1, 0], [8, 3], [2.5, 2]]},
              "legend": {"title": null, "orient": "none", "legendX": 1123, "legendY": -49, "padding": 0, "symbolType": "stroke", "symbolStrokeColor": "#000000", "symbolStrokeWidth": 3, "symbolSize": 841, "labelFontSize": 18, "labelFont": "Liberation Sans", "labelColor": "#000000", "labelOffset": 4, "rowPadding": -6}}
          }
        }
      ]
    },
    {
      "width": 555, "height": 187,
      "title": {"text": "Vowel-length MMR"},
      "layer": [
        {"data": {"values": [{}]}, "mark": {"type": "rule", "color": "#333333", "strokeWidth": 1}, "encoding": {"y": {"datum": 0, "type": "quantitative"}}},
        {"data": {"values": [{}]}, "mark": {"type": "rule", "color": "#333333", "strokeWidth": 1}, "encoding": {"x": {"datum": 0, "type": "quantitative"}}},
        {
          "data": {"name": "erp"},
          "transform": [{"filter": "datum.panel === 'Vowel-length'"}],
          "mark": {"type": "line", "strokeWidth": 2, "color": "#FFC000", "interpolate": "monotone"},
          "encoding": {
            "x": {"field": "ms", "type": "quantitative", "scale": {"domain": [-200, 700], "nice": false, "zero": false},
              "axis": {"values": [-200,-100,0,100,200,300,400,500,600,700], "labelExpr": "datum.value % 200 === 0 && datum.value < 700 ? '' + datum.value : ''", "tickSize": 10, "labelPadding": 6, "title": "ms", "titleX": 561, "titleY": 3, "titleAlign": "left", "titleBaseline": "middle", "labelFlush": false, "labelOverlap": false}},
            "y": {"field": "uv", "type": "quantitative", "scale": {"domain": [-5, 10], "reverse": true, "nice": false, "zero": false},
              "axis": {"values": [-5, 0, 5, 10], "labelExpr": "'' + datum.value", "tickSize": 6, "labelPadding": 8, "title": "µV", "titleAngle": 0, "titleX": 0, "titleY": -11, "titleAlign": "center", "titleBaseline": "middle", "labelFlush": false}},
            "strokeDash": {"field": "age", "type": "nominal", "scale": {"domain": ["2 months", "6 months", "10 months"], "range": [[1, 0], [8, 3], [2.5, 2]]},
              "legend": {"title": null, "orient": "none", "legendX": 1123, "legendY": -49, "padding": 0, "symbolType": "stroke", "symbolStrokeColor": "#000000", "symbolStrokeWidth": 3, "symbolSize": 841, "labelFontSize": 18, "labelFont": "Liberation Sans", "labelColor": "#000000", "labelOffset": 4, "rowPadding": -6}}
          }
        }
      ]
    },
    {
      "width": 555, "height": 187,
      "title": {"text": "Vowel MMR"},
      "layer": [
        {"data": {"values": [{}]}, "mark": {"type": "rule", "color": "#333333", "strokeWidth": 1}, "encoding": {"y": {"datum": 0, "type": "quantitative"}}},
        {"data": {"values": [{}]}, "mark": {"type": "rule", "color": "#333333", "strokeWidth": 1}, "encoding": {"x": {"datum": 0, "type": "quantitative"}}},
        {
          "data": {"name": "erp"},
          "transform": [{"filter": "datum.panel === 'Vowel'"}],
          "mark": {"type": "line", "strokeWidth": 2, "color": "#C00000", "interpolate": "monotone"},
          "encoding": {
            "x": {"field": "ms", "type": "quantitative", "scale": {"domain": [-200, 700], "nice": false, "zero": false},
              "axis": {"values": [-200,-100,0,100,200,300,400,500,600,700], "labelExpr": "datum.value % 200 === 0 && datum.value < 700 ? '' + datum.value : ''", "tickSize": 10, "labelPadding": 6, "title": "ms", "titleX": 561, "titleY": 3, "titleAlign": "left", "titleBaseline": "middle", "labelFlush": false, "labelOverlap": false}},
            "y": {"field": "uv", "type": "quantitative", "scale": {"domain": [-5, 10], "reverse": true, "nice": false, "zero": false},
              "axis": {"values": [-5, 0, 5, 10], "labelExpr": "'' + datum.value", "tickSize": 6, "labelPadding": 8, "title": "µV", "titleAngle": 0, "titleX": 0, "titleY": -11, "titleAlign": "center", "titleBaseline": "middle", "labelFlush": false}},
            "strokeDash": {"field": "age", "type": "nominal", "scale": {"domain": ["2 months", "6 months", "10 months"], "range": [[1, 0], [8, 3], [2.5, 2]]},
              "legend": {"title": null, "orient": "none", "legendX": 1123, "legendY": -49, "padding": 0, "symbolType": "stroke", "symbolStrokeColor": "#000000", "symbolStrokeWidth": 3, "symbolSize": 841, "labelFontSize": 18, "labelFont": "Liberation Sans", "labelColor": "#000000", "labelOffset": 4, "rowPadding": -6}}
          }
        }
      ]
    }
  ],
  "config": {
    "view": {"stroke": null},
    "axis": {"grid": false, "domainColor": "#222222", "tickColor": "#222222", "labelColor": "#111111", "labelFont": "Liberation Sans", "labelFontSize": 14, "titleFont": "Liberation Sans", "titleFontSize": 14, "titleFontWeight": "normal", "titleColor": "#111111", "domainWidth": 1, "tickWidth": 1},
    "title": {"font": "Liberation Sans", "fontSize": 16.5, "fontWeight": "bold", "color": "#000000", "anchor": "middle", "frame": "group", "offset": 12}
  }
}
